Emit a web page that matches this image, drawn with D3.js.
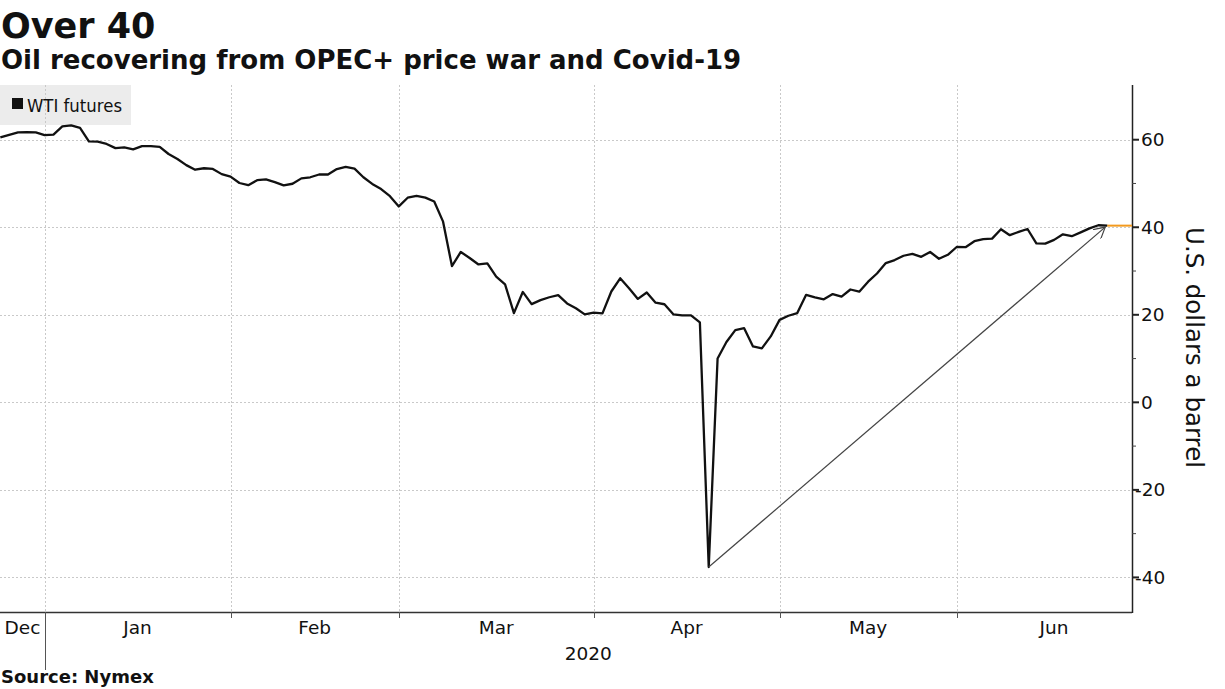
<!DOCTYPE html>
<html><head><meta charset="utf-8">
<script src="https://cdn.jsdelivr.net/npm/d3@7"></script>
<style>
body{margin:0;background:#fff}
svg{display:block}
text{font-family:"DejaVu Sans",sans-serif;fill:#111}
</style>
</head><body>
<svg id="chart" width="1225" height="689"></svg>
<script>
// ---------- data ----------
const dates = [
"2019-12-23","2019-12-24","2019-12-26","2019-12-27","2019-12-30","2019-12-31",
"2020-01-02","2020-01-03","2020-01-06","2020-01-07","2020-01-08","2020-01-09","2020-01-10","2020-01-13","2020-01-14","2020-01-15","2020-01-16","2020-01-17","2020-01-21","2020-01-22","2020-01-23","2020-01-24","2020-01-27","2020-01-28","2020-01-29","2020-01-30","2020-01-31",
"2020-02-03","2020-02-04","2020-02-05","2020-02-06","2020-02-07","2020-02-10","2020-02-11","2020-02-12","2020-02-13","2020-02-14","2020-02-18","2020-02-19","2020-02-20","2020-02-21","2020-02-24","2020-02-25","2020-02-26","2020-02-27","2020-02-28",
"2020-03-02","2020-03-03","2020-03-04","2020-03-05","2020-03-06","2020-03-09","2020-03-10","2020-03-11","2020-03-12","2020-03-13","2020-03-16","2020-03-17","2020-03-18","2020-03-19","2020-03-20","2020-03-23","2020-03-24","2020-03-25","2020-03-26","2020-03-27","2020-03-30","2020-03-31",
"2020-04-01","2020-04-02","2020-04-03","2020-04-06","2020-04-07","2020-04-08","2020-04-09","2020-04-13","2020-04-14","2020-04-15","2020-04-16","2020-04-17","2020-04-20","2020-04-21","2020-04-22","2020-04-23","2020-04-24","2020-04-27","2020-04-28","2020-04-29","2020-04-30",
"2020-05-01","2020-05-04","2020-05-05","2020-05-06","2020-05-07","2020-05-08","2020-05-11","2020-05-12","2020-05-13","2020-05-14","2020-05-15","2020-05-18","2020-05-19","2020-05-20","2020-05-21","2020-05-22","2020-05-26","2020-05-27","2020-05-28","2020-05-29",
"2020-06-01","2020-06-02","2020-06-03","2020-06-04","2020-06-05","2020-06-08","2020-06-09","2020-06-10","2020-06-11","2020-06-12","2020-06-15","2020-06-16","2020-06-17","2020-06-18","2020-06-19","2020-06-22","2020-06-23"
];
const wti = [
60.52,61.11,61.68,61.72,61.68,61.06,
61.18,63.05,63.27,62.70,59.61,59.56,59.04,58.08,58.23,57.81,58.52,58.54,58.38,56.74,55.59,54.19,53.14,53.48,53.33,52.14,51.56,
50.11,49.61,50.75,50.95,50.32,49.57,49.94,51.17,51.42,52.05,52.05,53.29,53.78,53.38,51.43,49.90,48.73,47.09,44.76,
46.75,47.18,46.78,45.90,41.28,31.13,34.36,32.98,31.50,31.73,28.70,26.95,20.37,25.22,22.43,23.36,24.01,24.49,22.60,21.51,20.09,20.48,
20.31,25.32,28.34,26.08,23.63,25.09,22.76,22.41,20.11,19.87,19.87,18.27,-37.63,10.01,13.78,16.50,16.94,12.78,12.34,15.06,18.84,
19.78,20.39,24.56,23.99,23.55,24.74,24.14,25.78,25.29,27.56,29.43,31.82,32.50,33.49,33.92,33.25,34.35,32.81,33.71,35.49,
35.44,36.81,37.29,37.41,39.55,38.19,38.94,39.60,36.34,36.26,37.12,38.38,37.96,38.84,39.75,40.46,40.37
];
const monthLabels = ["Dec","Jan","Feb","Mar","Apr","May","Jun"];
const juneTradingDays = 22;           // full-month span used to centre the last month label
const yearLabel = "2020";
const yTicks = [60,40,20,0,-20,-40];
const yMinorTicks = [50,30,10,-10,-30];
const titleText = "Over 40";
const subtitleText = "Oil recovering from OPEC+ price war and Covid-19";
const seriesName = "WTI futures";
const yAxisTitle = "U.S. dollars a barrel";
const sourceText = "Source: Nymex";

// ---------- layout ----------
const svg = d3.select("#chart");
const plotLeft = 0, plotRight = 1132, plotTop = 85, plotBottom = 612;
const n = wti.length;
const x = d3.scaleLinear().domain([0, 127.8]).range([0.33, plotRight]);
const y = d3.scaleLinear().domain([-47.9, 72.5]).range([plotBottom, plotTop]);

// month boundaries (last trading day of each month)
const months = dates.map(d => d.slice(0,7));
const boundaries = [];
for (let i = 0; i < n - 1; i++) if (months[i] !== months[i+1]) boundaries.push(i);

// legend box (drawn under grid)
const lg = svg.append("g");
lg.append("rect").attr("x",0).attr("y",85).attr("width",131).attr("height",40).attr("fill","#ececec");
lg.append("rect").attr("x",12).attr("y",98).attr("width",11).attr("height",11).attr("fill","#111");
lg.append("text").attr("x",27).attr("y",111.5).attr("font-size",18).attr("textLength",95).attr("lengthAdjust","spacingAndGlyphs").text(seriesName);

// grid
const grid = svg.append("g").attr("stroke","#c9c9c9").attr("stroke-width",1).attr("stroke-dasharray","2,2");
grid.selectAll("line.h").data(yTicks).join("line").attr("class","h")
  .attr("x1",plotLeft).attr("x2",plotRight).attr("y1",d=>Math.round(y(d))+0.5).attr("y2",d=>Math.round(y(d))+0.5);
grid.selectAll("line.v").data(boundaries).join("line").attr("class","v")
  .attr("x1",d=>Math.round(x(d))+0.5).attr("x2",d=>Math.round(x(d))+0.5).attr("y1",plotTop).attr("y2",plotBottom);

// titles
svg.append("text").attr("x",1).attr("y",37.5).attr("font-size",35).attr("font-weight","bold").text(titleText);
svg.append("text").attr("x",1).attr("y",68.5).attr("font-size",26).attr("font-weight","bold").text(subtitleText);
svg.append("text").attr("x",1).attr("y",683).attr("font-size",18).attr("font-weight","bold").text(sourceText);

// x axis
const xa = svg.append("g");
xa.append("line").attr("x1",plotLeft).attr("x2",plotRight).attr("y1",plotBottom+0.5).attr("y2",plotBottom+0.5).attr("stroke","#333").attr("stroke-width",1.5);
xa.selectAll("line.t").data(boundaries).join("line").attr("class","t")
  .attr("x1",d=>Math.round(x(d))+0.5).attr("x2",d=>Math.round(x(d))+0.5)
  .attr("y1",plotBottom).attr("y2",(d,i)=> i===0 ? 670 : 618).attr("stroke","#555").attr("stroke-width",1);
const starts = [0].concat(boundaries);
const ends = boundaries.concat([boundaries[boundaries.length-1] + juneTradingDays]);
xa.selectAll("text.m").data(monthLabels).join("text").attr("class","m")
  .attr("x",(d,i)=> x((starts[i] + ends[i]) / 2))
  .attr("y",634).attr("text-anchor","middle").attr("font-size",18.5).text(d=>d);
xa.append("text").attr("x",(x(boundaries[0]) + plotRight)/2).attr("y",660)
  .attr("text-anchor","middle").attr("font-size",18.5).text(yearLabel);

// y axis (right)
const ya = svg.append("g");
ya.append("line").attr("x1",plotRight+0.5).attr("x2",plotRight+0.5).attr("y1",plotTop).attr("y2",plotBottom+1).attr("stroke","#222").attr("stroke-width",1.5);
ya.selectAll("line.mj").data(yTicks).join("line").attr("class","mj")
  .attr("x1",plotRight).attr("x2",plotRight+7).attr("y1",d=>y(d)).attr("y2",d=>y(d)).attr("stroke","#222").attr("stroke-width",2);
ya.selectAll("line.mn").data(yMinorTicks).join("line").attr("class","mn")
  .attr("x1",plotRight).attr("x2",plotRight+4).attr("y1",d=>y(d)).attr("y2",d=>y(d)).attr("stroke","#444").attr("stroke-width",1);
ya.selectAll("text").data(yTicks).join("text")
  .attr("x",d=> d<0 ? 1135 : 1141).attr("y",d=>y(d)+6.5).attr("font-size",18.5).text(d=> d<0 ? "-"+Math.abs(d) : d);
svg.append("text").attr("transform",`translate(1186,${(225+470)/2}) rotate(90)`)
  .attr("text-anchor","middle").attr("font-size",24.5).text(yAxisTitle);

// arrow annotation from the low to the latest point
const iMin = d3.minIndex(wti), iLast = n - 1;
svg.append("defs").append("marker").attr("id","ah").attr("viewBox","0 0 12 12")
  .attr("refX",11).attr("refY",6).attr("markerWidth",12).attr("markerHeight",12).attr("markerUnits","userSpaceOnUse")
  .attr("orient","auto").append("path").attr("d","M0,0 L11,6 L0,12").attr("fill","none").attr("stroke","#444").attr("stroke-width",1.2);

// last-value marker line
svg.append("line").attr("x1",x(iLast)).attr("x2",plotRight).attr("y1",y(wti[iLast])).attr("y2",y(wti[iLast]))
  .attr("stroke","#f39a1e").attr("stroke-width",2);

// series line
const line = d3.line().x((d,i)=>x(i)).y(d=>y(d));
svg.append("path").datum(wti).attr("d",line).attr("fill","none").attr("stroke","#111").attr("stroke-width",2.3).attr("stroke-linejoin","round");

svg.append("line").attr("x1",x(iMin)).attr("y1",y(wti[iMin])).attr("x2",x(iLast)-2).attr("y2",y(wti[iLast])+1.5)
  .attr("stroke","#444").attr("stroke-width",1.2).attr("marker-end","url(#ah)");
</script>
</body></html>
